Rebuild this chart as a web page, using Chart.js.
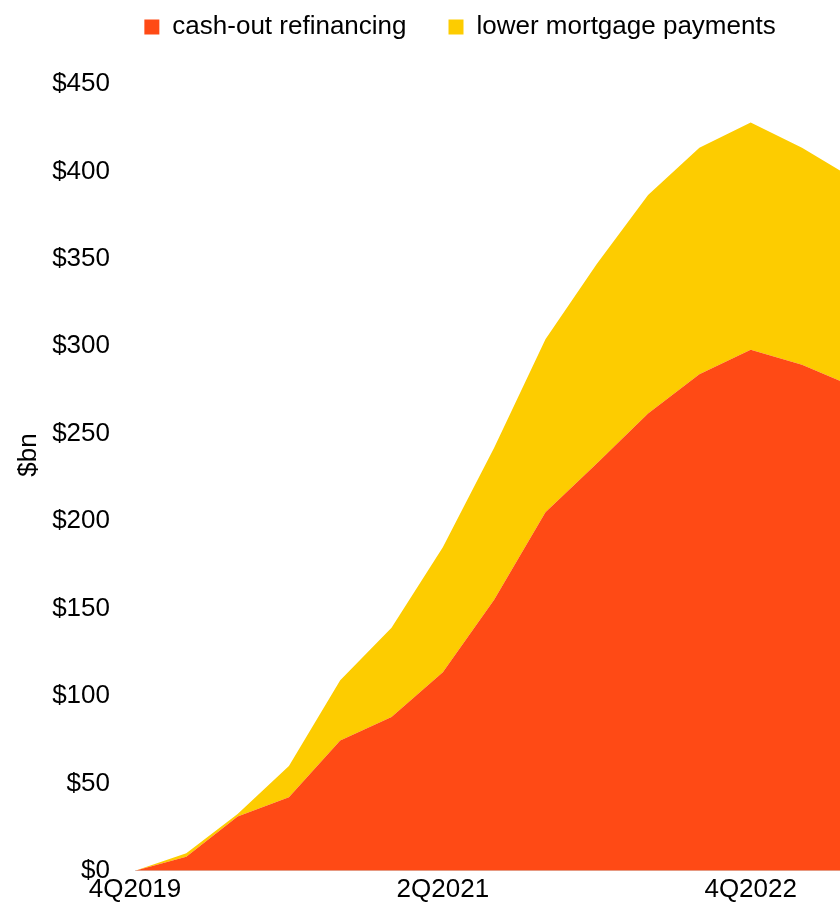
<!DOCTYPE html>
<html>
<head>
<meta charset="utf-8">
<script src="https://cdn.jsdelivr.net/npm/chart.js@4/dist/chart.umd.min.js"></script>
<style>
  html, body { margin: 0; padding: 0; background: #fff; overflow: hidden; }
  #wrap { width: 840px; height: 913px; overflow: hidden; position: relative; }
  canvas { display: block; }
</style>
</head>
<body>
<div id="wrap"><canvas id="c" width="920" height="913"></canvas></div>
<script>
// Quarters (x categories)
const quarters = ["4Q2019","1Q2020","2Q2020","3Q2020","4Q2020","1Q2021","2Q2021","3Q2021","4Q2021","1Q2022","2Q2022","3Q2022","4Q2022","1Q2023","2Q2023"];
// Series values, $bn (stacked)
const cashOutRefinancing = [0, 8, 31, 42, 74.5, 88, 113.5, 155, 205, 233, 261.5, 284, 298, 289.5, 277];
const lowerMortgagePayments = [0, 2, 1.5, 18, 34.5, 51, 71.5, 87, 99, 114, 125, 129.5, 130, 124, 119];
// Axis ticks
const yTicks = [0, 50, 100, 150, 200, 250, 300, 350, 400, 450];
const xTickLabels = ["4Q2019", "2Q2021", "4Q2022"];
const seriesNames = ["cash-out refinancing", "lower mortgage payments"];
const yTitle = "$bn";

const FONT = "'Liberation Sans', Arial, sans-serif";
const RED = "#FF4A15";
const YELLOW = "#FDCC00";

const toPts = arr => arr.map((v, i) => ({ x: i, y: v }));

const yTitlePlugin = {
  id: 'yTitle',
  afterDraw(chart) {
    const ctx = chart.ctx;
    ctx.save();
    ctx.translate(29, 455);
    ctx.rotate(-Math.PI / 2);
    ctx.font = "26px " + FONT;
    ctx.fillStyle = "#000";
    ctx.textAlign = "center";
    ctx.textBaseline = "middle";
    ctx.fillText(yTitle, 0, 0);
    ctx.restore();
  }
};

// Give the legend box a fixed height so the plot area starts lower
const legendHeight = {
  id: 'legendHeight',
  afterInit(chart) {
    const lg = chart.legend;
    if (!lg) return;
    const orig = lg.fit;
    lg.fit = function () { orig.call(this); this.height = 112; };
  }
};

new Chart(document.getElementById('c'), {
  type: 'line',
  data: {
    datasets: [
      { label: seriesNames[0], data: toPts(cashOutRefinancing), backgroundColor: RED, borderColor: RED,
        borderWidth: 0, pointRadius: 0, fill: 'origin', tension: 0 },
      { label: seriesNames[1], data: toPts(lowerMortgagePayments), backgroundColor: YELLOW, borderColor: YELLOW,
        borderWidth: 0, pointRadius: 0, fill: '-1', tension: 0 }
    ]
  },
  options: {
    responsive: false,
    animation: false,
    layout: { padding: { left: 0, right: 0, top: -28, bottom: 5 } },
    plugins: {
      legend: {
        position: 'top',
        align: 'center',
        labels: {
          font: { family: FONT, size: 26 },
          color: '#000',
          boxWidth: 15,
          boxHeight: 15,
          padding: 42
        }
      },
      tooltip: { enabled: false }
    },
    scales: {
      x: {
        type: 'linear',
        min: 0,
        max: 15.3,
        grid: { display: false, drawTicks: false },
        border: { display: true, color: '#d4d4d4', width: 1 },
        afterBuildTicks(scale) {
          scale.ticks = xTickLabels.map(l => ({ value: quarters.indexOf(l) }));
        },
        ticks: {
          font: { family: FONT, size: 26 },
          color: '#000',
          padding: 3,
          maxRotation: 0,
          autoSkip: false,
          callback: v => quarters[v]
        }
      },
      y: {
        stacked: true,
        min: 0,
        max: 450,
        grid: { display: false, drawTicks: false },
        border: { display: false },
        afterBuildTicks(scale) {
          scale.ticks = yTicks.map(v => ({ value: v }));
        },
        afterFit(scale) { scale.width = 135; },
        ticks: {
          font: { family: FONT, size: 26 },
          color: '#000',
          padding: 25,
          callback: v => '$' + v
        }
      }
    }
  },
  plugins: [yTitlePlugin, legendHeight]
});
</script>
</body>
</html>
